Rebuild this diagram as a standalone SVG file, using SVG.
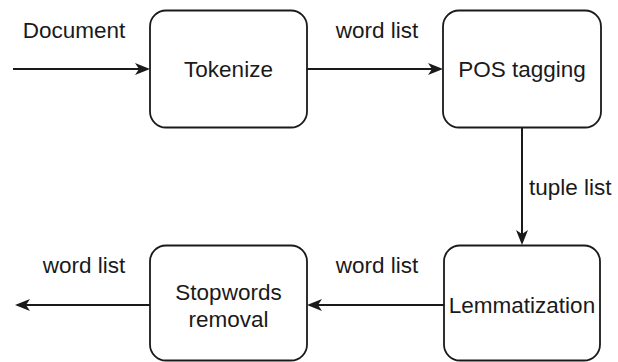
<svg xmlns="http://www.w3.org/2000/svg" width="618" height="362" viewBox="0 0 618 362">
  <style>
    .box { fill: #ffffff; stroke: #1a1a1a; stroke-width: 1.8; }
    .edge { fill: none; stroke: #1a1a1a; stroke-width: 2; }
    text { font-family: "Liberation Sans", Arial, sans-serif; font-size: 22.5px; fill: #1a1a1a; }
    .c { text-anchor: middle; }
  </style>
  <defs>
    <marker id="arrow" markerUnits="userSpaceOnUse" markerWidth="16" markerHeight="14" refX="9" refY="6" orient="auto" overflow="visible">
      <path d="M0,0 L15,6 L0,12 L4,6 Z" fill="#1a1a1a" stroke="none"/>
    </marker>
  </defs>
  <rect width="618" height="362" fill="#ffffff"/>

  <g id="connectors">
    <line class="edge" x1="13" y1="69" x2="144" y2="69" marker-end="url(#arrow)"/>
    <line class="edge" x1="307" y1="69" x2="437" y2="69" marker-end="url(#arrow)"/>
    <line class="edge" x1="522" y1="128" x2="522" y2="239" marker-end="url(#arrow)"/>
    <line class="edge" x1="444" y1="305" x2="313" y2="305" marker-end="url(#arrow)"/>
    <line class="edge" x1="150" y1="305" x2="21" y2="305" marker-end="url(#arrow)"/>
    <text class="c" x="74" y="38">Document</text>
    <text class="c" x="377" y="38">word list</text>
    <text x="529" y="195">tuple list</text>
    <text class="c" x="377" y="273">word list</text>
    <text class="c" x="84" y="273">word list</text>
  </g>

  <g id="tokenize">
    <rect class="box" x="150" y="10.5" width="157" height="117" rx="16" ry="16"/>
    <text class="c" x="228.5" y="77">Tokenize</text>
  </g>
  <g id="pos-tagging">
    <rect class="box" x="443" y="10.5" width="158" height="117" rx="16" ry="16"/>
    <text class="c" x="522" y="77">POS tagging</text>
  </g>
  <g id="lemmatization">
    <rect class="box" x="444" y="245.5" width="156" height="115" rx="16" ry="16"/>
    <text class="c" x="522" y="313">Lemmatization</text>
  </g>
  <g id="stopwords-removal">
    <rect class="box" x="150" y="245.5" width="157" height="115" rx="16" ry="16"/>
    <text class="c" x="228.5" y="300">Stopwords</text>
    <text class="c" x="228.5" y="327">removal</text>
  </g>
</svg>
